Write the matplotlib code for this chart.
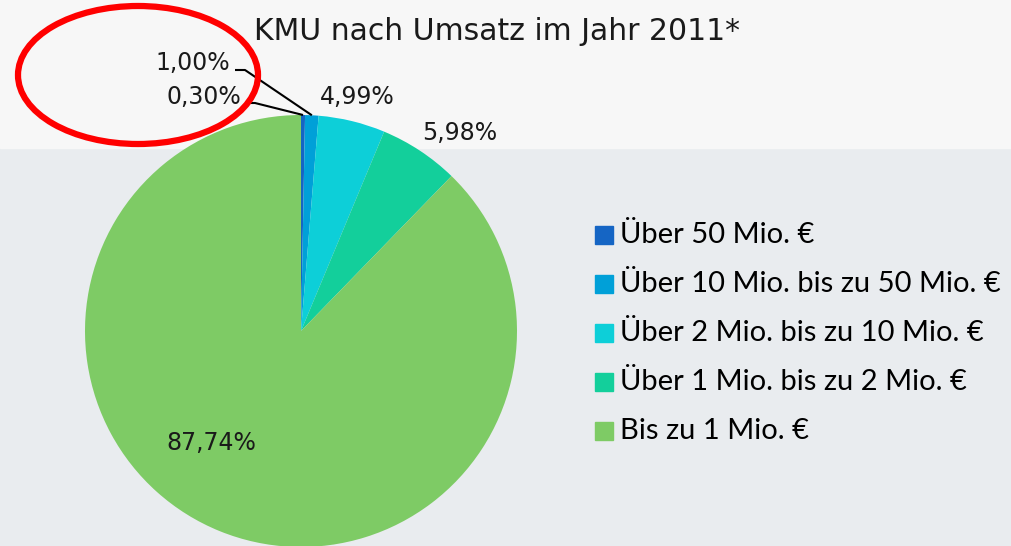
import numpy as np
import matplotlib
matplotlib.use("Agg")
import matplotlib.pyplot as plt
from matplotlib.patches import Ellipse, Rectangle

# data
categories = [
    "Über 50 Mio. €",
    "Über 10 Mio. bis zu 50 Mio. €",
    "Über 2 Mio. bis zu 10 Mio. €",
    "Über 1 Mio. bis zu 2 Mio. €",
    "Bis zu 1 Mio. €",
]
shares = [0.30, 1.00, 4.99, 5.98, 87.74]
labels = ["0,30%", "1,00%", "4,99%", "5,98%", "87,74%"]
colors = ["#1565c4", "#00a0d8", "#0dcfd8", "#13cf9b", "#7ecb65"]

W, H = 1011, 546
fig = plt.figure(figsize=(W / 100, H / 100), dpi=100)
ax = fig.add_axes([0, 0, 1, 1])

# background bands
ax.add_patch(Rectangle((0, 0), W, H - 148, color="#e9ecef", zorder=0))
ax.add_patch(Rectangle((0, H - 148), W, 148, color="#f7f7f7", zorder=0))

cx, cy, r = 301, H - 331, 216
wedges, _ = ax.pie(shares, colors=colors, startangle=90, counterclock=False,
                   center=(cx, cy), radius=r, frame=True,
                   wedgeprops=dict(linewidth=0))
ax.set_xlim(0, W)
ax.set_ylim(0, H)
ax.set_aspect("equal")
ax.axis("off")

ax.text(497, H - 31, "KMU nach Umsatz im Jahr 2011*", ha="center", va="center",
        fontsize=21.5, family="DejaVu Sans", color="#1a1a1a")

# data labels (pixel positions of the label text, measured from top)
lab_pos = [(241, 97, "right"), (230, 63, "right"), (357, 97, "center"),
           (460, 133, "center"), (211, 443, "center")]
for lab, (x, y, ha) in zip(labels, lab_pos):
    ax.text(x, H - y, lab, ha=ha, va="center", fontsize=17,
            family="DejaVu Sans", color="#1a1a1a")

# leader lines for the two small slices
for i, (x0, y0) in zip([0, 1], [(245, 103), (235, 70)]):
    w = wedges[i]
    mid = np.deg2rad((w.theta1 + w.theta2) / 2)
    ex, ey = cx + r * np.cos(mid), cy + r * np.sin(mid)
    ax.plot([x0, x0 + 10, ex], [H - y0, H - y0, ey], color="black", lw=1.5,
            solid_capstyle="butt", zorder=5)

# highlight ellipse
ax.add_patch(Ellipse((138, H - 75), 240, 138, fill=False, edgecolor="#ff0000",
                     lw=4.5, zorder=6))

# legend
for k, (name, col) in enumerate(zip(categories, colors)):
    yy = H - (235 + 49 * k)
    ax.add_patch(Rectangle((595, yy - 9), 18, 18, color=col, zorder=4))
    ax.text(620, yy, name, ha="left", va="center", fontsize=21,
            family="Lato", color="black")

fig.savefig("out.png", dpi=100)
